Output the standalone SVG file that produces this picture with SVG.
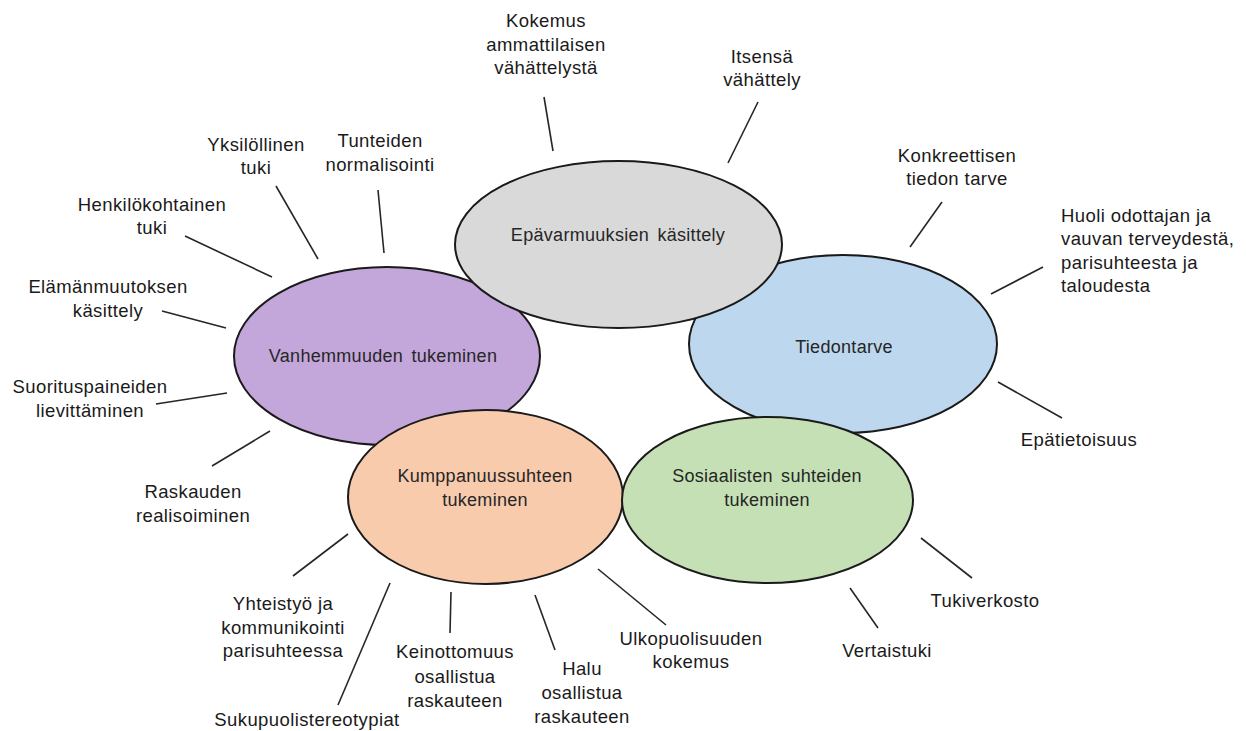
<svg xmlns="http://www.w3.org/2000/svg" width="1246" height="731" viewBox="0 0 1246 731">
<style>
.node{stroke:#1a1a1a;stroke-width:2}
.nl{font-family:"Liberation Sans",Arial,sans-serif;font-size:18px;fill:#262626;text-anchor:middle;word-spacing:3px;letter-spacing:0.3px}
.lb{font-family:"Liberation Sans",Arial,sans-serif;font-size:18.5px;fill:#1a1a1a;text-anchor:middle;letter-spacing:0.4px}
.lbl{font-family:"Liberation Sans",Arial,sans-serif;font-size:18.5px;fill:#1a1a1a;text-anchor:start;letter-spacing:0.4px}
.con line{stroke:#262626;stroke-width:1.6}
</style>
<rect width="1246" height="731" fill="#ffffff"/>
<g id="vanhemmuus">
<ellipse class="node" cx="387" cy="356" rx="153" ry="89" fill="#c3a6da"/>
<text class="nl" x="383" y="362">Vanhemmuuden tukeminen</text>
</g>
<g id="tiedontarve">
<ellipse class="node" cx="843" cy="344" rx="154" ry="89" fill="#bdd7ee"/>
<text class="nl" x="844" y="353">Tiedontarve</text>
</g>
<g id="epavarmuudet">
<ellipse class="node" cx="618.5" cy="244.5" rx="163.5" ry="83.5" fill="#d9d9d9"/>
<text class="nl" x="618" y="241">Epävarmuuksien käsittely</text>
</g>
<g id="kumppanuus">
<ellipse class="node" cx="485.5" cy="497" rx="137.5" ry="87" fill="#f8cbad"/>
<text class="nl" x="485" y="482">Kumppanuussuhteen</text>
<text class="nl" x="485" y="506">tukeminen</text>
</g>
<g id="sosiaaliset">
<ellipse class="node" cx="767.5" cy="500" rx="145.5" ry="83" fill="#c5e0b4"/>
<text class="nl" x="767" y="482">Sosiaalisten suhteiden</text>
<text class="nl" x="767" y="506">tukeminen</text>
</g>
<g id="connectors" class="con">
<line x1="544" y1="97" x2="553" y2="151"/>
<line x1="758" y1="102" x2="728" y2="163"/>
<line x1="942" y1="202" x2="910" y2="247"/>
<line x1="1043" y1="267" x2="991" y2="294"/>
<line x1="998" y1="382" x2="1062" y2="418"/>
<line x1="921" y1="538" x2="972" y2="578"/>
<line x1="850" y1="588" x2="878" y2="628"/>
<line x1="598" y1="569" x2="666" y2="625"/>
<line x1="535" y1="595" x2="555" y2="650"/>
<line x1="451" y1="592" x2="450" y2="633"/>
<line x1="390" y1="583" x2="338" y2="705"/>
<line x1="348" y1="534" x2="293" y2="576"/>
<line x1="270" y1="431" x2="212" y2="466"/>
<line x1="227" y1="393" x2="156" y2="404"/>
<line x1="162" y1="311" x2="226" y2="328"/>
<line x1="185" y1="236" x2="272" y2="277"/>
<line x1="276" y1="186" x2="318" y2="259"/>
<line x1="378" y1="190" x2="384" y2="253"/>
</g>
<g id="labels">
<text class="lb" x="546" y="27">Kokemus</text>
<text class="lb" x="546" y="50.5">ammattilaisen</text>
<text class="lb" x="546" y="74">vähättelystä</text>
<text class="lb" x="762" y="63">Itsensä</text>
<text class="lb" x="762" y="86">vähättely</text>
<text class="lb" x="957" y="162">Konkreettisen</text>
<text class="lb" x="957" y="185">tiedon tarve</text>
<text class="lbl" x="1061" y="222">Huoli odottajan ja</text>
<text class="lbl" x="1061" y="245">vauvan terveydestä,</text>
<text class="lbl" x="1061" y="268.5">parisuhteesta ja</text>
<text class="lbl" x="1061" y="292">taloudesta</text>
<text class="lb" x="1079" y="446">Epätietoisuus</text>
<text class="lb" x="985" y="607">Tukiverkosto</text>
<text class="lb" x="887" y="657">Vertaistuki</text>
<text class="lb" x="691" y="645">Ulkopuolisuuden</text>
<text class="lb" x="691" y="668">kokemus</text>
<text class="lb" x="582" y="675">Halu</text>
<text class="lb" x="582" y="699">osallistua</text>
<text class="lb" x="582" y="723">raskauteen</text>
<text class="lb" x="455" y="658">Keinottomuus</text>
<text class="lb" x="455" y="682.5">osallistua</text>
<text class="lb" x="455" y="707">raskauteen</text>
<text class="lb" x="307" y="726">Sukupuolistereotypiat</text>
<text class="lb" x="283" y="610">Yhteistyö ja</text>
<text class="lb" x="283" y="633.5">kommunikointi</text>
<text class="lb" x="283" y="657">parisuhteessa</text>
<text class="lb" x="193" y="498">Raskauden</text>
<text class="lb" x="193" y="522">realisoiminen</text>
<text class="lb" x="90" y="393">Suorituspaineiden</text>
<text class="lb" x="90" y="417">lievittäminen</text>
<text class="lb" x="108" y="293">Elämänmuutoksen</text>
<text class="lb" x="108" y="317">käsittely</text>
<text class="lb" x="152" y="211">Henkilökohtainen</text>
<text class="lb" x="152" y="234">tuki</text>
<text class="lb" x="256" y="151">Yksilöllinen</text>
<text class="lb" x="256" y="174">tuki</text>
<text class="lb" x="380" y="147">Tunteiden</text>
<text class="lb" x="380" y="171">normalisointi</text>
</g>
</svg>
